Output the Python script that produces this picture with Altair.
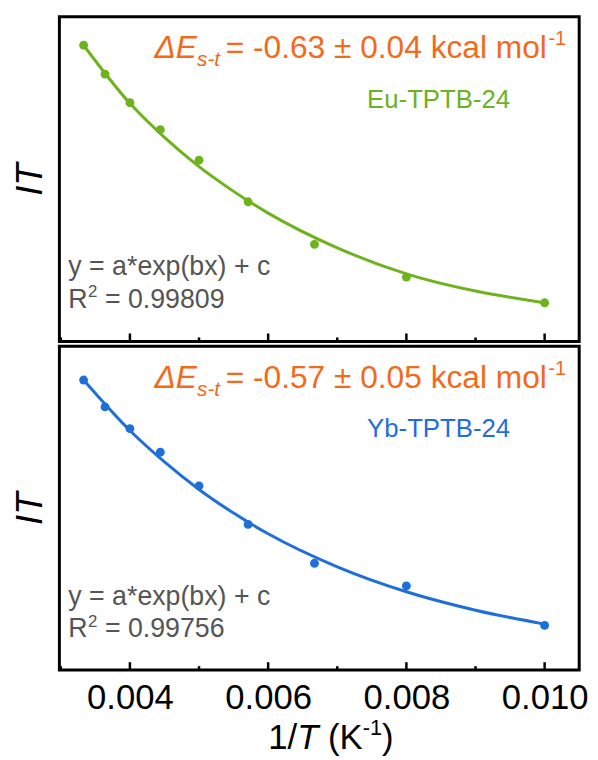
import altair as alt
import pandas as pd

# ---------------- data ----------------
inv_T = [0.00333, 0.00364, 0.00400, 0.00444, 0.00500, 0.00571, 0.00667, 0.00800, 0.01000]
eu_IT = [0.912, 0.823, 0.735, 0.652, 0.558, 0.430, 0.299, 0.198, 0.119]
yb_IT = [0.896, 0.813, 0.746, 0.673, 0.569, 0.450, 0.330, 0.260, 0.138]

fit_x = [0.00333, 0.0040, 0.0045, 0.0050, 0.0055, 0.0060, 0.0070, 0.0080, 0.0090, 0.0100]
eu_fit = [0.912, 0.733, 0.628, 0.538, 0.462, 0.395, 0.288, 0.208, 0.155, 0.119]
yb_fit = [0.896, 0.740, 0.643, 0.558, 0.485, 0.421, 0.319, 0.242, 0.185, 0.142]

major_ticks = [0.004, 0.006, 0.008, 0.010]
minor_ticks = [0.003, 0.005, 0.007, 0.009]

names = ["Eu-TPTB-24", "Yb-TPTB-24"]
dE_text = ["= -0.63 ± 0.04 kcal mol", "= -0.57 ± 0.05 kcal mol"]
r2_text = ["= 0.99809", "= 0.99756"]
fit_eq = "y = a*exp(bx) + c"

GREEN = "#6cb31c"
BLUE = "#1e6fd9"
ORANGE = "#f26a1a"
GRAY = "#555555"
FONT = "Liberation Sans"

W = 525
H_TOP = 328
H_BOT = 327
X_DOMAIN = [0.00298, 0.0105]

xscale = alt.Scale(domain=X_DOMAIN, nice=False, zero=False)
yscale = alt.Scale(domain=[0, 1], nice=False, zero=False)


def txt(s, x, y, size, color, style="normal", align="left", baseline="alphabetic"):
    return alt.Chart(pd.DataFrame({"t": [s]})).mark_text(
        text=s, font=FONT, fontSize=size, fontStyle=style, color=color,
        align=align, baseline=baseline,
    ).encode(x=alt.value(x), y=alt.value(y))


def panel(values, fit, color, idx, H, bottom):
    yaxis = alt.Axis(title="IT", labels=False, ticks=False, domain=False, grid=False,
                     titleFontSize=37, titleFontStyle="italic", titleFontWeight="normal",
                     titleFont=FONT, titlePadding=10, titleColor="black")
    if bottom:
        xaxis = alt.Axis(title=None, values=major_ticks, format=".3f", ticks=False, tickSize=0,
                         domain=False, grid=False, labelFontSize=35, labelFont=FONT,
                         labelColor="black", labelPadding=11)
    else:
        xaxis = None

    pts = pd.DataFrame({"x": inv_T, "v": values})
    fdf = pd.DataFrame({"x": fit_x, "v": fit})
    X = alt.X("x:Q", scale=xscale, axis=xaxis)
    Y = alt.Y("v:Q", scale=yscale, axis=yaxis)

    line = alt.Chart(fdf).mark_line(color=color, strokeWidth=3, interpolate="monotone").encode(x=X, y=Y)
    dots = alt.Chart(pts).mark_circle(color=color, size=80, opacity=1).encode(x=X, y=Y)

    majors = alt.Chart(pd.DataFrame({"x": major_ticks})).mark_rule(color="black", strokeWidth=2.5).encode(
        x=alt.X("x:Q", scale=xscale, axis=xaxis), y=alt.value(H), y2=alt.value(H - 8))
    minors = alt.Chart(pd.DataFrame({"x": minor_ticks})).mark_rule(color="black", strokeWidth=2.5).encode(
        x=alt.X("x:Q", scale=xscale, axis=xaxis), y=alt.value(H), y2=alt.value(H - 4))

    layers = [line, dots, majors, minors,
              txt("ΔE", 96, 42, 32, ORANGE, style="italic"),
              txt("s-t", 139, 50, 21, ORANGE, style="italic"),
              txt(dE_text[idx], 168, 42, 32, ORANGE),
              txt("-1", 494, 29, 20, ORANGE),
              txt(names[idx], 383, 92, 26, color, align="center"),
              txt(fit_eq, 9, 261, 27, GRAY),
              txt("R", 9, 294, 27, GRAY),
              txt("2", 29, 283, 17, GRAY),
              txt(r2_text[idx], 46, 294, 27, GRAY)]
    if bottom:
        fs = 35
        sup = 22
        x0 = 211
        yb = H + 80
        x1 = x0 + 0.834 * fs
        x2 = x1 + 0.611 * fs + 0.278 * fs
        x3 = x2 + 1.0 * fs
        x4 = x3 + 0.889 * sup
        layers += [txt("1/", x0, yb, fs, "black"),
                   txt("T", x1, yb, fs, "black", style="italic"),
                   txt("(K", x2, yb, fs, "black"),
                   txt("-1", x3, yb - 14, sup, "black"),
                   txt(")", x4, yb, fs, "black")]
    return alt.layer(*layers).properties(width=W, height=H)


top = panel(eu_IT, eu_fit, GREEN, 0, H_TOP, False)
bot = panel(yb_IT, yb_fit, BLUE, 1, H_BOT, True)

chart = alt.vconcat(top, bot, spacing=0).properties(
    padding={"left": 10, "top": 11, "right": 8, "bottom": 2}
).configure(font=FONT).configure_view(stroke="black", strokeWidth=3)

chart.save("out.html", embed_options={"renderer": "svg", "actions": False})
